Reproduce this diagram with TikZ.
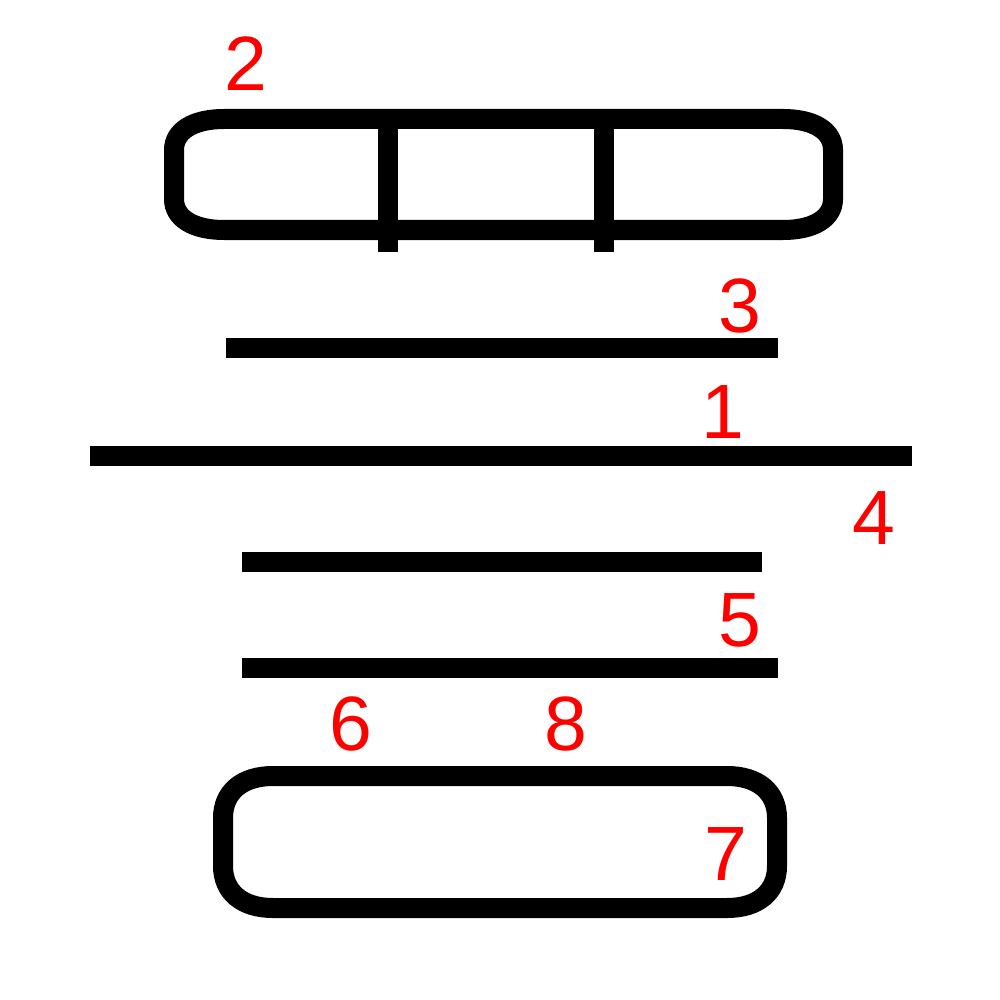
\documentclass[tikz,border=0pt]{standalone}
\usepackage{fontspec}
\setmainfont{Liberation Sans}
\usepackage{tikz}
\usetikzlibrary{calc}

\begin{document}
\begin{tikzpicture}[x=1pt, y=1pt, line width=20pt,
    every node/.style={text=red, inner sep=0pt, anchor=base, font=\fontsize{77}{90}\selectfont}]
    \useasboundingbox (0,0) rectangle (1000,-1000);

    % top box with two dividers
    \draw (174,-150) .. controls (174,-131) and (193,-119) .. (224,-119) -- (783,-119)
        .. controls (814,-119) and (833,-131) .. (833,-150) -- (833,-199)
        .. controls (833,-218) and (814,-230) .. (783,-230) -- (224,-230)
        .. controls (193,-230) and (174,-218) .. (174,-199) -- cycle;
    \foreach \x in {388,604}
    \draw (\x,-119) -- (\x,-252);

    % bars
    \coordinate (A) at (226,-348);
    \coordinate (B) at (778,-348);
    \coordinate (C) at (90,-456);
    \coordinate (D) at (912,-456);
    \coordinate (E) at (242,-562);
    \coordinate (F) at (762,-562);
    \coordinate (G) at (242,-668);
    \coordinate (H) at (778,-668);
    \draw (A) -- (B);
    \draw (C) -- (D);
    \draw (E) -- (F);
    \draw (G) -- (H);

    % bottom box
    \draw (223,-818) .. controls (223,-792) and (242,-776) .. (273,-776) -- (727,-776)
        .. controls (758,-776) and (777,-792) .. (777,-818) -- (777,-866)
        .. controls (777,-892) and (758,-908) .. (727,-908) -- (273,-908)
        .. controls (242,-908) and (223,-892) .. (223,-866) -- cycle;

    % labels
    \node (l2) at (246,-91) {2};
    \node (l3) at (740,-332) {3};
    \node (l1) at (723,-438) {1};
    \node (l4) at (874,-544) {4};
    \node (l5) at (740,-646) {5};
    \node (l6) at (351,-750) {6};
    \node (l8) at (566,-750) {8};
    \node (l7) at (726,-880) {7};
\end{tikzpicture}
\end{document}
